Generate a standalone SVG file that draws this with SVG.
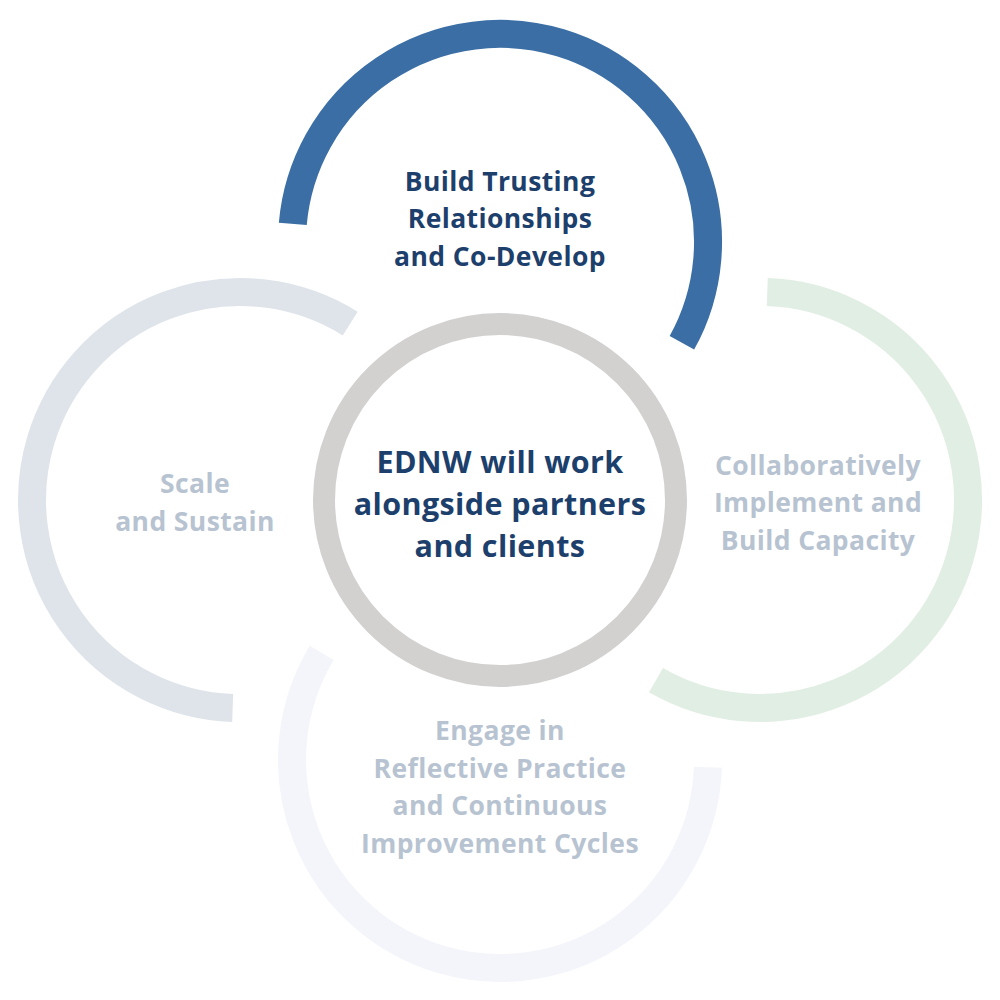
<svg xmlns="http://www.w3.org/2000/svg" width="1000" height="1000" viewBox="0 0 1000 1000">
<style>
.arc{fill:none;stroke-width:28}
.t{font-family:"Open Sans","Liberation Sans",sans-serif;font-weight:700;font-size:26.5px;letter-spacing:0.4px;text-anchor:middle}
.dark{fill:#1d3f6c}
.fade{fill:#b7c3d1}
</style>
<rect width="1000" height="1000" fill="#fff"/>
<g id="connectors"></g>
<g id="left">
<path class="arc" stroke="#dfe4eb" d="M350.2,323.6 A208,208 0 1 0 232.7,707.9"/>
<text class="t fade"><tspan x="195" y="493">Scale</tspan><tspan x="195" y="531">and Sustain</tspan></text>
</g>
<g id="bottom">
<path class="arc" stroke="#f3f5fa" d="M707.9,767.3 A208,208 0 1 1 321.7,652.9"/>
<text class="t fade"><tspan x="500" y="740">Engage in</tspan><tspan x="500" y="778">Reflective Practice</tspan><tspan x="500" y="815">and Continuous</tspan><tspan x="500" y="853">Improvement Cycles</tspan></text>
</g>
<g id="right">
<path class="arc" stroke="#e1eee4" d="M767.3,292.1 A208,208 0 1 1 656,680.1"/>
<text class="t fade"><tspan x="818" y="475">Collaboratively</tspan><tspan x="818" y="512">Implement and</tspan><tspan x="818" y="550">Build Capacity</tspan></text>
</g>
<g id="top">
<path class="arc" stroke="#3a6ea5" d="M292.8,223.9 A208,208 0 1 1 681.9,342.8"/>
<text class="t dark"><tspan x="500" y="191">Build Trusting</tspan><tspan x="500" y="228">Relationships</tspan><tspan x="500" y="266">and Co-Develop</tspan></text>
</g>
<g id="center">
<circle cx="500" cy="500" r="176" fill="#fff" stroke="#d2d1d0" stroke-width="22"/>
<text class="t dark" style="font-size:30.5px"><tspan x="500" y="473">EDNW will work</tspan><tspan x="500" y="515">alongside partners</tspan><tspan x="500" y="557">and clients</tspan></text>
</g>
</svg>
